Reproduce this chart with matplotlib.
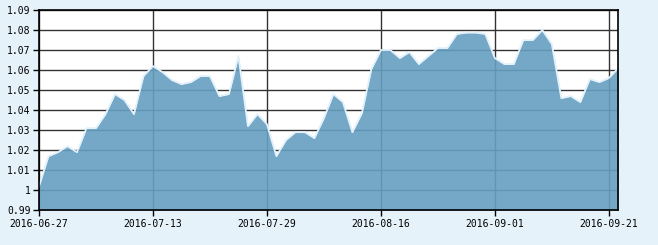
import numpy as np
import matplotlib
matplotlib.use('Agg')
import matplotlib.pyplot as plt

# trading days (category axis) and net value
dates = ['2016-06-27', '2016-06-28', '2016-06-29', '2016-06-30', '2016-07-01',
         '2016-07-04', '2016-07-05', '2016-07-06', '2016-07-07', '2016-07-08',
         '2016-07-11', '2016-07-12', '2016-07-13', '2016-07-14', '2016-07-15',
         '2016-07-18', '2016-07-19', '2016-07-20', '2016-07-21', '2016-07-22',
         '2016-07-25', '2016-07-26', '2016-07-27', '2016-07-28', '2016-07-29',
         '2016-08-01', '2016-08-02', '2016-08-03', '2016-08-04', '2016-08-05',
         '2016-08-08', '2016-08-09', '2016-08-10', '2016-08-11', '2016-08-12',
         '2016-08-15', '2016-08-16', '2016-08-17', '2016-08-18', '2016-08-19',
         '2016-08-22', '2016-08-23', '2016-08-24', '2016-08-25', '2016-08-26',
         '2016-08-29', '2016-08-30', '2016-08-31', '2016-09-01', '2016-09-02',
         '2016-09-05', '2016-09-06', '2016-09-07', '2016-09-08', '2016-09-09',
         '2016-09-12', '2016-09-13', '2016-09-14', '2016-09-19', '2016-09-20',
         '2016-09-21', '2016-09-22']
values = [1.002, 1.017, 1.019, 1.022, 1.019, 1.031, 1.031, 1.038, 1.048, 1.045,
          1.038, 1.057, 1.062, 1.059, 1.055, 1.053, 1.054, 1.057, 1.057, 1.047,
          1.048, 1.067, 1.032, 1.038, 1.033, 1.017, 1.025, 1.029, 1.029, 1.026,
          1.036, 1.048, 1.044, 1.029, 1.0385, 1.0605, 1.070, 1.070, 1.066, 1.069,
          1.063, 1.067, 1.071, 1.071, 1.078, 1.0787, 1.0787, 1.078, 1.066, 1.063,
          1.063, 1.075, 1.075, 1.080, 1.073, 1.046, 1.047, 1.044, 1.0555, 1.054,
          1.056, 1.061]
y_ticks = [0.99, 1.00, 1.01, 1.02, 1.03, 1.04, 1.05, 1.06, 1.07, 1.08, 1.09]
y_labels = ['0.99', '1', '1.01', '1.02', '1.03', '1.04', '1.05', '1.06',
            '1.07', '1.08', '1.09']
x_tick_idx = [0, 12, 24, 36, 48, 60]

bg = '#e6f2fa'
fig = plt.figure(figsize=(6.58, 2.45), dpi=100, facecolor=bg)
ax = fig.add_axes([39 / 658, 1 - 210.3 / 245, 579.3 / 658, 200.3 / 245])
ax.set_facecolor('white')

x = np.arange(len(values))
ax.fill_between(x, 0.99, values, color='#669fc0', alpha=0.9, lw=0, zorder=2)
ax.plot(x, values, color='#e2f1fb', lw=1.3, zorder=3)

ax.set_xlim(0, len(values) - 1)
ax.set_ylim(0.99, 1.09)
ax.set_yticks(y_ticks)
ax.set_yticklabels(y_labels)
ax.set_xticks(x_tick_idx)
ax.set_xticklabels([dates[i] for i in x_tick_idx])
ax.grid(True, color='#333333', lw=1, zorder=1)
ax.set_axisbelow(True)
for s in ax.spines.values():
    s.set_color('black')
    s.set_linewidth(1.2)
    s.set_zorder(5)
ax.tick_params(length=4, width=1, color='black', labelsize=7, pad=2)
for lab in ax.get_xticklabels() + ax.get_yticklabels():
    lab.set_family('DejaVu Sans Mono')

fig.savefig('out.png', dpi=100, facecolor=bg)
